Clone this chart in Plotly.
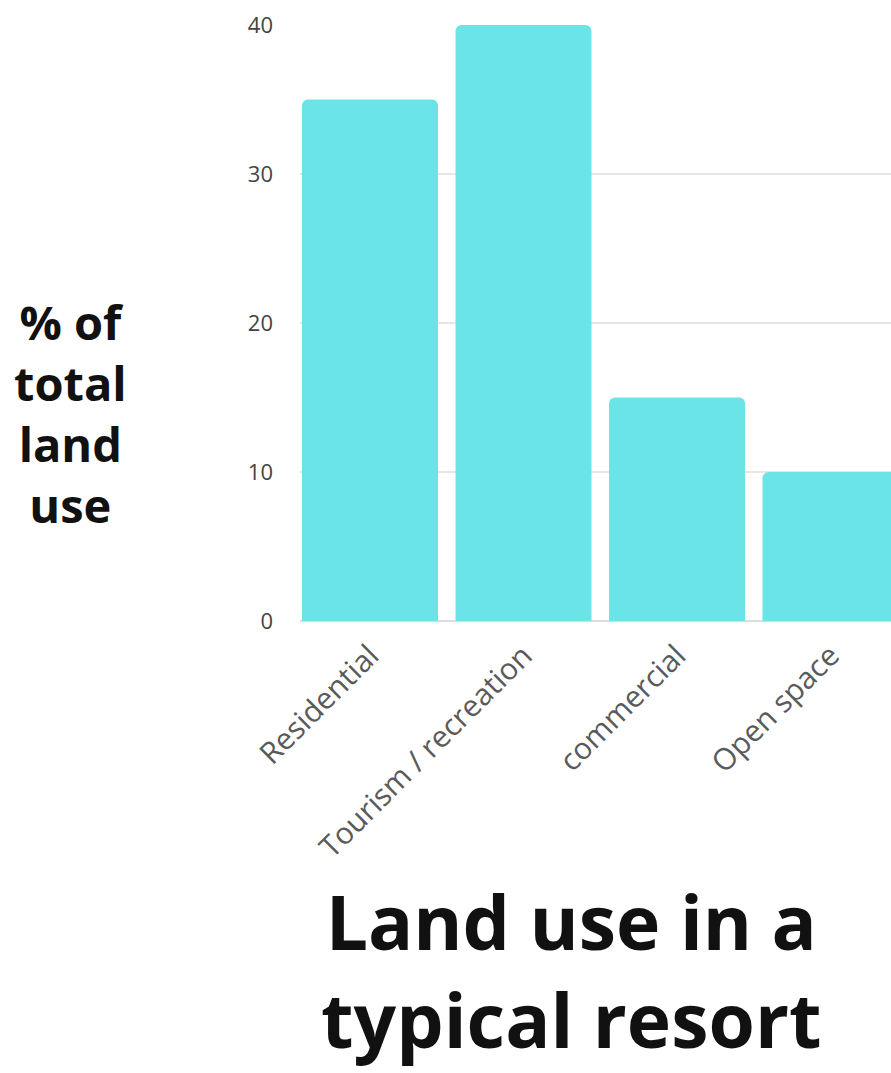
import plotly.graph_objects as go

categories = ["Residential", "Tourism / recreation", "commercial", "Open space"]
values = [35, 40, 15, 10]
y_ticks = [0, 10, 20, 30, 40]

fig = go.Figure(go.Bar(
    x=categories, y=values,
    marker=dict(color="#6BE4E8", cornerradius=6, line=dict(width=0)),
    width=0.886,
))

L, R, T, B = 300, 0, 25, 452
W, H = 891, 1073
pw = W - L - R
ph = H - T - B


def px_to_paper_x(px):
    return (px - L) / pw


def px_to_paper_y(py):
    return (H - B - py) / ph


fig.update_layout(
    width=W, height=H,
    margin=dict(l=L, r=R, t=T, b=B, autoexpand=False),
    plot_bgcolor="white", paper_bgcolor="white",
    showlegend=False,
    font=dict(family="Open Sans", color="#555555"),
    xaxis=dict(
        range=[-0.456, 3.394],
        tickangle=-45,
        tickfont=dict(family="Open Sans", size=30, color="#5a5a5a"),
        showgrid=False, zeroline=False, showline=False,
        ticks="",
        ticklabelstandoff=10,
    ),
    yaxis=dict(
        range=[0, 40],
        tickvals=y_ticks,
        tickfont=dict(family="Open Sans", size=22, color="#444444"),
        showgrid=True, gridcolor="#E6E6E6", gridwidth=2,
        zeroline=True, zerolinecolor="#DDDDDD", zerolinewidth=2,
        showline=False, ticks="",
        ticklabelstandoff=26,
    ),
    annotations=[
        dict(
            text="<b>% of<br>total<br>land<br>use</b>",
            xref="paper", yref="paper",
            x=px_to_paper_x(70), y=px_to_paper_y(413),
            xanchor="center", yanchor="middle",
            showarrow=False, align="center",
            font=dict(family="Open Sans", size=47, color="#111111"),
        ),
        dict(
            text="<b>Land use in a<br>typical resort</b>",
            xref="paper", yref="paper",
            x=px_to_paper_x(571), y=px_to_paper_y(970),
            xanchor="center", yanchor="middle",
            showarrow=False, align="center",
            font=dict(family="Open Sans", size=75, color="#111111"),
        ),
    ],
)

fig.write_html(
    "out.html",
    config={"displayModeBar": False},
    post_script="document.body.style.margin='0';",
)
